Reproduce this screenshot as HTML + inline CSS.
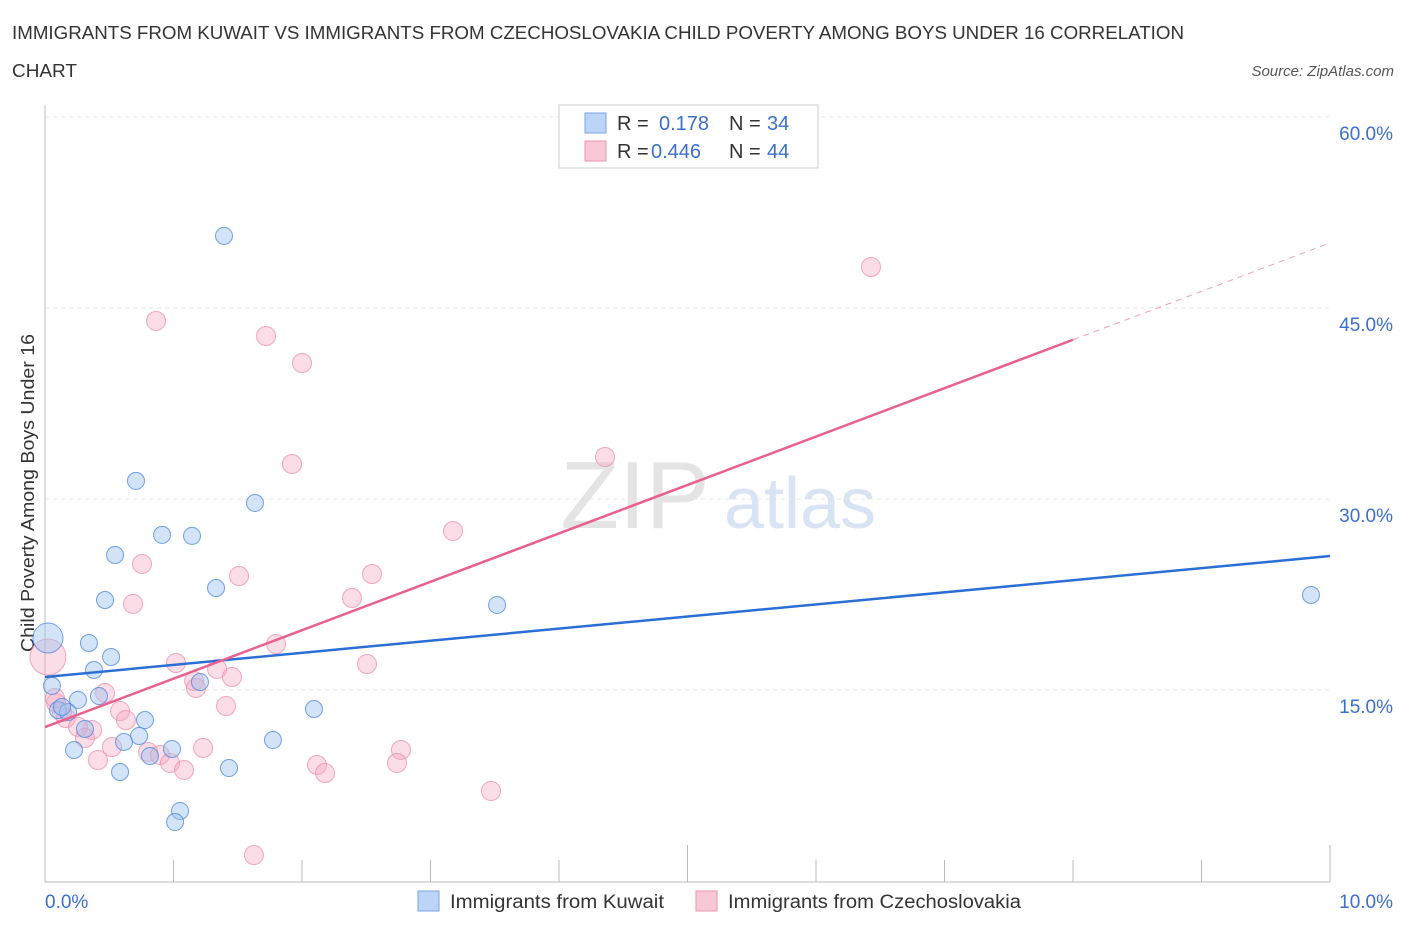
<!DOCTYPE html>
<html><head><meta charset="utf-8"><style>
body{margin:0;background:#fff;font-family:"Liberation Sans",sans-serif;}
svg text{font-family:"Liberation Sans",sans-serif;}
</style></head><body>
<svg id="c" width="1406" height="930" xmlns="http://www.w3.org/2000/svg">
<text x="12" y="39" font-size="18" fill="#333" textLength="1172" lengthAdjust="spacingAndGlyphs">IMMIGRANTS FROM KUWAIT VS IMMIGRANTS FROM CZECHOSLOVAKIA CHILD POVERTY AMONG BOYS UNDER 16 CORRELATION</text>
<text x="12" y="77" font-size="18" fill="#333" textLength="65" lengthAdjust="spacingAndGlyphs">CHART</text>
<text x="1394" y="76" font-size="15" fill="#555" font-style="italic" text-anchor="end">Source: ZipAtlas.com</text>
<text x="635" y="528" font-size="96" fill="#e4e4e4" font-family="Liberation Serif" text-anchor="middle">ZIP</text>
<text x="800" y="528" font-size="72" fill="#d8e4f4" text-anchor="middle">atlas</text>
<text transform="translate(34,493) rotate(-90)" font-size="18" fill="#333" text-anchor="middle" textLength="318" lengthAdjust="spacingAndGlyphs">Child Poverty Among Boys Under 16</text>
<g id="grid"></g><g id="pts"></g><g id="lines"></g>
<g>
<rect x="559" y="105" width="259" height="63" fill="#fff" stroke="#ccc"/>
<rect x="585" y="113" width="21" height="20" fill="#bcd4f6" stroke="#7aa6e6"/>
<rect x="585" y="141" width="21" height="20" fill="#f9c8d6" stroke="#ec93ad"/>
<text x="617" y="130" font-size="20" fill="#333">R = </text><text x="659" y="130" font-size="20" fill="#3a6fd0">0.178</text>
<text x="729" y="130" font-size="20" fill="#333">N = </text><text x="767" y="130" font-size="20" fill="#3a6fd0">34</text>
<text x="617" y="158" font-size="20" fill="#333">R = </text><text x="651" y="158" font-size="20" fill="#3a6fd0">0.446</text>
<text x="729" y="158" font-size="20" fill="#333">N = </text><text x="767" y="158" font-size="20" fill="#3a6fd0">44</text>
</g>
<g>
<rect x="418" y="891" width="21" height="20" fill="#bcd4f6" stroke="#7aa6e6"/>
<text x="450" y="908" font-size="19" fill="#333" textLength="214" lengthAdjust="spacingAndGlyphs">Immigrants from Kuwait</text>
<rect x="696" y="891" width="21" height="20" fill="#f9c8d6" stroke="#ec93ad"/>
<text x="728" y="908" font-size="19" fill="#333" textLength="293" lengthAdjust="spacingAndGlyphs">Immigrants from Czechoslovakia</text>
</g>
</svg>
<script>
const yTicks=[15,30,45,60];
const yTickLabels=["15.0%","30.0%","45.0%","60.0%"];
const xTickLabels=["0.0%","10.0%"];
const kuwaitX=[1.393,0.708,1.634,0.911,1.144,0.545,1.331,0.467,3.518,9.852,0.342,0.514,0.381,0.023,0.054,1.206,0.420,0.257,0.101,0.179,0.132,0.778,0.311,0.732,0.615,0.226,0.988,0.817,1.774,2.093,0.584,1.432,1.051,1.012];
const kuwaitY=[50.66,31.42,29.69,27.18,27.10,25.60,23.01,22.07,21.68,22.46,18.69,17.59,16.57,19.08,15.32,15.63,14.53,14.22,13.43,13.27,13.67,12.64,11.94,11.39,10.92,10.29,10.37,9.82,11.07,13.51,8.56,8.87,5.50,4.63];
const czechX=[6.428,0.864,1.720,2.000,1.922,4.358,3.175,0.755,1.510,2.545,2.389,0.685,1.798,0.023,1.019,2.506,1.339,1.455,1.160,1.175,1.409,0.467,0.086,0.584,0.630,0.163,0.366,0.257,0.311,0.521,0.802,0.895,1.230,0.412,0.973,1.082,2.770,2.739,2.117,2.179,3.471,1.626,0.132,0.078];
const czechY=[48.22,43.98,42.80,40.68,32.75,33.30,27.49,24.90,23.95,24.11,22.23,21.76,18.61,17.59,17.12,17.04,16.65,16.02,15.71,15.16,13.74,14.77,13.98,13.35,12.64,12.80,11.86,12.10,11.23,10.52,10.13,9.90,10.45,9.50,9.27,8.72,10.29,9.27,9.11,8.48,7.07,2.04,13.27,14.37];
const kuwaitLine=[16.02,25.52]; // y at x=0 and x=10
const czechLine=[12.09,50.11];
const czechSolidEnd=8.0;
const NS="http://www.w3.org/2000/svg";
const X=v=>45+v*128.5, Y=v=>881-v*191/15;
function mk(t,a,p){const e=document.createElementNS(NS,t);for(const k in a)e.setAttribute(k,a[k]);p.appendChild(e);return e;}
const g=document.getElementById('grid');
mk('line',{x1:45,y1:105,x2:45,y2:882,stroke:'#bbb'},g);
mk('line',{x1:45,y1:882,x2:1330,y2:882,stroke:'#bbb'},g);
yTicks.forEach((t,i)=>{
 mk('line',{x1:45,y1:Y(t),x2:1330,y2:Y(t),stroke:'#e4e4e4','stroke-dasharray':'4,4'},g);
 const tx=mk('text',{x:1393,y:Y(t)+23,'font-size':19,fill:'#3a6fd0','text-anchor':'end'},g);
 tx.textContent=yTickLabels[i];
 
 
});
for(let i=0;i<=10;i++){const l=mk('line',{x1:X(i),y1:i%5==0?845:860,x2:X(i),y2:882,stroke:'#bbb'},g);}
[[0,'start',45],[1,'end',1393]].forEach(([i,a,x])=>{const t=mk('text',{x:x,y:908,'font-size':19,fill:'#3a6fd0','text-anchor':a},g);t.textContent=xTickLabels[i];
 
 });
const p=document.getElementById('pts');
czechX.forEach((x,i)=>{const c=mk('circle',{cx:X(x),cy:Y(czechY[i]),r:i==13?18:9.5,fill:'rgba(246,170,195,0.4)',stroke:'rgba(236,140,170,0.75)','stroke-width':1},p);
 
 });
kuwaitX.forEach((x,i)=>{const c=mk('circle',{cx:X(x),cy:Y(kuwaitY[i]),r:i==13?15:8.5,fill:'rgba(160,195,240,0.45)',stroke:'rgba(70,130,220,0.75)','stroke-width':1},p);
 
 });
const L=document.getElementById('lines');
const kl=mk('line',{x1:X(0),y1:Y(kuwaitLine[0]),x2:X(10),y2:Y(kuwaitLine[1]),stroke:'#2b6fd6','stroke-width':2.5},L);


const cy=x=>czechLine[0]+(czechLine[1]-czechLine[0])*x/10;
const cl=mk('line',{x1:X(0),y1:Y(cy(0)),x2:X(czechSolidEnd),y2:Y(cy(czechSolidEnd)),stroke:'#e8608e','stroke-width':2.5},L);


const cd=mk('line',{x1:X(czechSolidEnd),y1:Y(cy(czechSolidEnd)),x2:X(10),y2:Y(cy(10)),stroke:'#f0a0bb','stroke-width':1,'stroke-dasharray':'6,5'},L);


</script>
</body></html>
